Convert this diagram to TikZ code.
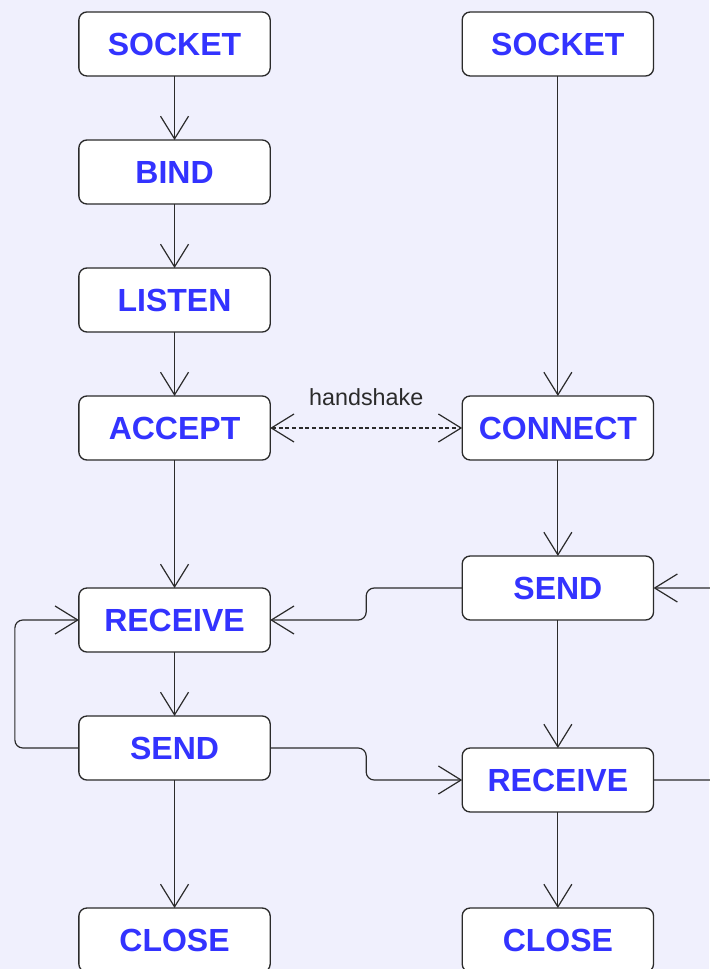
\documentclass[tikz,border=0pt]{standalone}
\usepackage{fontspec}
\setmainfont{Liberation Sans}
\usetikzlibrary{arrows.meta, positioning, calc}
\definecolor{bgcol}{HTML}{F0F0FD}
\definecolor{txtblue}{HTML}{3333FF}
\definecolor{linecol}{HTML}{2B2B2B}

\begin{document}
\begin{tikzpicture}[auto,node distance = 48pt and 144pt,
 box/.style = {draw=linecol, line width=1pt, rounded corners=6pt, fill=white, minimum width=143.5pt, minimum height=48pt, inner sep=0pt, outer sep=0pt, text=txtblue, font=\fontsize{24}{28}\selectfont\bfseries},
 barb/.tip = {Straight Barb[length=17pt,width=21pt,line width=0.9pt]},
 flow/.style = {draw=linecol, line width=0.9pt, rounded corners=6pt, -barb},
]
\fill[bgcol] (0,0) rectangle (531.75pt,-726.75pt);
\useasboundingbox (0,0) rectangle (531.75pt,-726.75pt);

% server side
\node (s0)[box] at (130.9pt,-33pt) {SOCKET};
\node (s1)[box, below=of s0]      {BIND};
\node (s2)[box, below=of s1]      {LISTEN};
\node (s3)[box, below=of s2]      {ACCEPT};
\node (s4)[box, below=96pt of s3] {RECEIVE};
\node (s5)[box, below=of s4]      {SEND};
\node (s6)[box, below=96pt of s5] {CLOSE};

% client side
\node (c0)[box, right=of s0]      {SOCKET};
\node (c1)[box, right=of s3]      {CONNECT};
\node (c2)[box, below=72pt of c1] {SEND};
\node (c3)[box, below=96pt of c2] {RECEIVE};
\node (c4)[box, below=72pt of c3] {CLOSE};

\draw[flow] (s0) -- (s1);
\draw[flow] (s1) -- (s2);
\draw[flow] (s2) -- (s3);
\draw[flow] (s3) -- (s4);
\draw[flow] (s4) -- (s5);
\draw[flow] (s5) -- (s6);

\draw[flow] (c0) -- (c1);
\draw[flow] (c1) -- (c2);
\draw[flow] (c2) -- (c3);
\draw[flow] (c3) -- (c4);

\draw[flow, barb-barb, dash pattern=on 3pt off 2pt] (s3) -- node[above=13pt, text=linecol, font=\fontsize{17.5}{20}\selectfont] (hs) {handshake} (c1);

\draw[flow] (c2.west) -| ($(c2.west)!0.5!(s4.east)$) |- (s4.east);
\draw[flow] (s5.east) -| ($(s5.east)!0.5!(c3.west)$) |- (c3.west);
\draw[flow] (s5.west) -- ++(-48pt,0) |- (s4.west);
\draw[flow] (c3.east) -- ++(48pt,0) |- (c2.east);
\end{tikzpicture}
\end{document}
